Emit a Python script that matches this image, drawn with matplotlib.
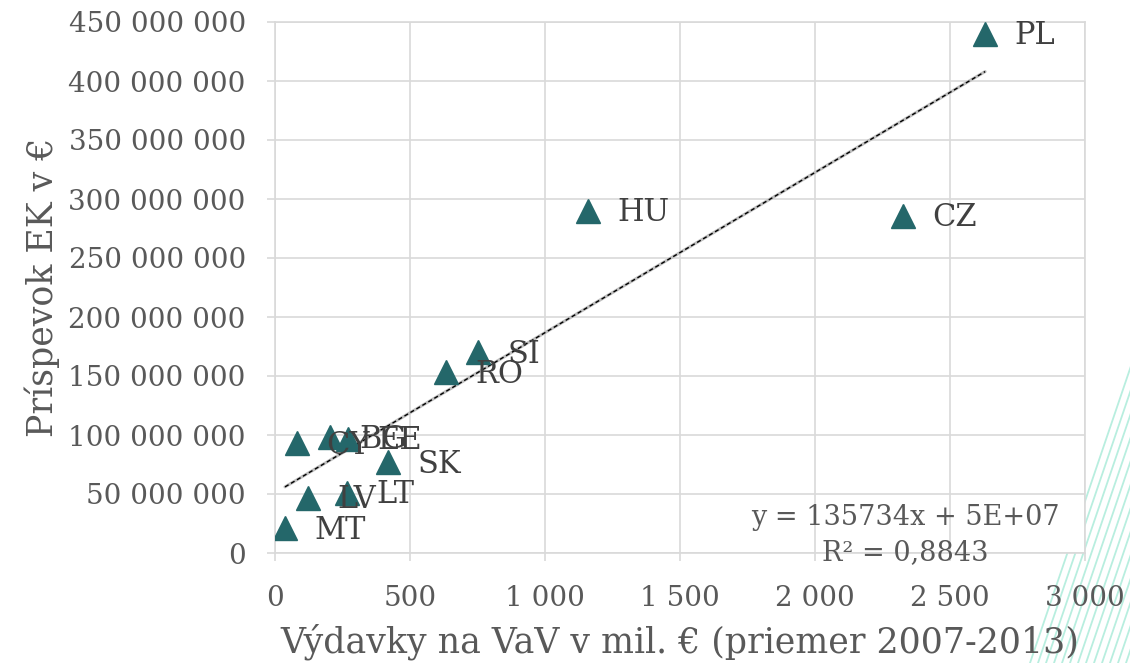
import numpy as np
import matplotlib.pyplot as plt
from matplotlib.lines import Line2D
from matplotlib.ticker import FuncFormatter

plt.rcParams['font.family'] = ['DejaVu Serif']

# countries, R&D spending (mil. EUR, avg 2007-2013) and EC contribution (EUR)
countries = ['PL', 'CZ', 'HU', 'SI', 'RO', 'SK', 'LT', 'LV', 'MT', 'CY', 'BG', 'EE']
vav = [2630, 2326, 1159, 752, 633, 419, 267, 122, 37, 81, 204, 270]
prispevok = [440e6, 286e6, 290e6, 170e6, 153e6, 77e6, 51e6, 47e6, 21e6, 93e6, 98e6, 97e6]

# linear trend from the chart label
trend_slope = 135734
trend_intercept = 5.1e7
eq_text = 'y = 135734x + 5E+07'
r2_text = 'R² = 0,8843'

x_ticks = np.arange(0, 3001, 500)
y_ticks = np.arange(0, 450e6 + 1, 50e6)

MARKER_COL = '#24676a'
GRID_COL = '#d9d9d9'
TICK_COL = '#595959'
LABEL_COL = '#404040'


def space_fmt(v, pos):
    return '{:,.0f}'.format(v).replace(',', ' ')


fig = plt.figure(figsize=(11.3, 6.63), dpi=100)
W, H = 1130, 663

# decorative stripes in the bottom right corner
for x0 in range(1030, 1135, 8):
    x1 = x0 + 0.34 * 300
    fig.add_artist(Line2D([x0 / W, x1 / W], [0, 300 / H], color='#b8eedf',
                          lw=1.3, zorder=0))

ax = fig.add_axes([275 / W, 110 / H, 810 / W, 531 / H])
ax.set_facecolor('white')
ax.set_zorder(1)

ax.set_xlim(0, 3000)
ax.set_ylim(0, 450e6)
ax.set_xticks(x_ticks)
ax.set_yticks(y_ticks)
ax.xaxis.set_major_formatter(FuncFormatter(space_fmt))
ax.yaxis.set_major_formatter(FuncFormatter(space_fmt))
ax.grid(True, color=GRID_COL, lw=1.2)
ax.set_axisbelow(True)
for s in ax.spines.values():
    s.set_color(GRID_COL)
    s.set_linewidth(1.2)
ax.tick_params(colors=GRID_COL, labelcolor=TICK_COL, labelsize=20,
               length=6, width=1.2)
ax.tick_params(axis='y', pad=15)
ax.tick_params(axis='x', pad=17)

# trendline
xs = np.array([min(vav), max(vav)])
ys = trend_slope * xs + trend_intercept
ax.plot(xs, ys, color='#bfbfbf', lw=2.2, solid_capstyle='round', zorder=2)
ax.plot(xs, ys, color='black', lw=1.0, dashes=(3, 2), zorder=3)

ax.plot(vav, prispevok, linestyle='none', marker='^', ms=17,
        color=MARKER_COL, mec=MARKER_COL, zorder=4)

for c, xv, yv in zip(countries, vav, prispevok):
    ax.annotate(c, (xv, yv), xytext=(21, -1.5), textcoords='offset points',
                ha='left', va='center', fontsize=22, color=LABEL_COL, zorder=5)

ax.text(0.778, 0.066, eq_text, transform=ax.transAxes, ha='center',
        va='center', fontsize=19.5, color=TICK_COL, zorder=5)
ax.text(0.778, 0.0, r2_text, transform=ax.transAxes, ha='center',
        va='center', fontsize=19.5, color=TICK_COL, zorder=5)

ax.set_xlabel('Výdavky na VaV v mil. € (priemer 2007-2013)', fontsize=25,
              color=TICK_COL, labelpad=8)
ax.set_ylabel('Príspevok EK v €', fontsize=25, color=TICK_COL, labelpad=6)

fig.savefig('out.png', dpi=100)
